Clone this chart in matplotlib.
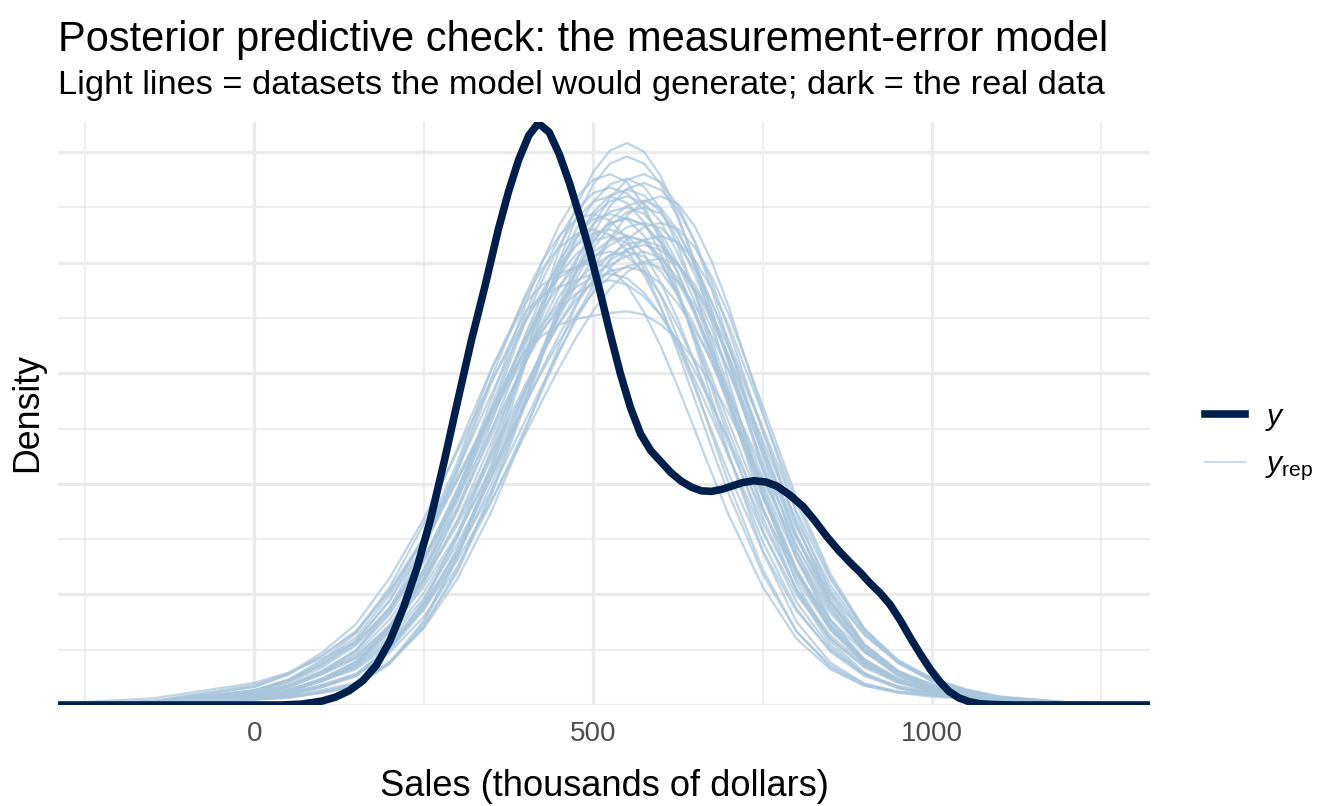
import numpy as np
import matplotlib.pyplot as plt
from matplotlib.lines import Line2D

plt.rcParams['font.family'] = ['Liberation Sans', 'DejaVu Sans']
plt.rcParams['mathtext.fontset'] = 'custom'
plt.rcParams['mathtext.rm'] = 'Liberation Sans'
plt.rcParams['mathtext.it'] = 'Liberation Sans:italic'

y_sales = [-290, 40, 70, 100, 120, 140, 160, 180, 200, 220, 240, 260, 280, 300, 320, 340,
           360, 375, 390, 405, 419, 435, 450, 465, 480, 495, 510, 525, 540, 555, 570, 585,
           600, 615, 630, 645, 660, 675, 690, 705, 720, 737, 755, 771, 790, 810, 828, 845,
           862, 879, 894, 909, 924, 938, 953, 968, 983, 998, 1012, 1025, 1040, 1055, 1070,
           1090, 1120, 1322]
y_dens = [0, 0, 0.004, 0.018, 0.036, 0.065, 0.110, 0.180, 0.290, 0.440, 0.620, 0.840, 1.100,
          1.375, 1.645, 1.890, 2.150, 2.320, 2.465, 2.575, 2.630, 2.590, 2.490, 2.360, 2.210,
          2.050, 1.870, 1.680, 1.500, 1.345, 1.225, 1.150, 1.100, 1.050, 1.012, 0.985, 0.968,
          0.966, 0.975, 0.990, 1.005, 1.014, 1.008, 0.990, 0.950, 0.897, 0.830, 0.761, 0.700,
          0.645, 0.600, 0.550, 0.505, 0.455, 0.385, 0.305, 0.230, 0.160, 0.105, 0.062, 0.032,
          0.015, 0.006, 0.002, 0, 0]

# replicated datasets (a sample of the yrep draws), density x 1e-3 on a common grid
rep_sales = [-300, -150, 0, 50, 100, 150, 200, 250, 300, 350, 400, 425, 450, 475, 500, 525,
             550, 575, 600, 625, 650, 675, 700, 750, 800, 850, 900, 950, 1000, 1050, 1100,
             1200, 1350]
yrep_dens = [
    [.001, .006, .041, .066, .117, .197, .332, .548, .838, 1.188, 1.555, 1.729, 1.885, 2.017, 2.116, 2.178, 2.200, 2.171, 2.088, 1.954, 1.782, 1.582, 1.368, .946, .590, .340, .187, .105, .066, .041, .024, .009, 0],
    [.001, .004, .036, .059, .110, .184, .343, .589, .925, 1.325, 1.737, 1.921, 2.079, 2.199, 2.275, 2.300, 2.270, 2.183, 2.042, 1.863, 1.654, 1.431, 1.205, .791, .467, .258, .140, .081, .055, .040, .020, .008, 0],
    [.002, .012, .054, .087, .145, .221, .361, .561, .817, 1.115, 1.432, 1.586, 1.728, 1.852, 1.957, 2.035, 2.083, 2.100, 2.073, 1.993, 1.865, 1.701, 1.510, 1.100, .722, .436, .247, .139, .081, .048, .024, .009, 0],
    [0, .003, .030, .046, .082, .133, .262, .471, .774, 1.159, 1.587, 1.797, 1.987, 2.152, 2.275, 2.354, 2.380, 2.344, 2.240, 2.075, 1.864, 1.626, 1.373, .895, .516, .272, .139, .078, .052, .035, .020, .007, 0],
    [0, .002, .024, .033, .056, .086, .193, .381, .681, 1.092, 1.580, 1.826, 2.057, 2.256, 2.410, 2.507, 2.540, 2.502, 2.390, 2.215, 1.989, 1.735, 1.466, .955, .551, .289, .147, .076, .048, .030, .016, .005, 0],
    [.003, .014, .065, .110, .188, .293, .476, .720, 1.017, 1.341, 1.650, 1.786, 1.896, 1.980, 2.032, 2.050, 2.027, 1.960, 1.853, 1.712, 1.548, 1.367, 1.181, .824, .525, .315, .184, .110, .070, .044, .026, .009, 0],
    [.001, .004, .034, .052, .091, .141, .260, .447, .709, 1.044, 1.423, 1.612, 1.792, 1.954, 2.091, 2.193, 2.257, 2.280, 2.246, 2.145, 1.988, 1.785, 1.557, 1.078, .661, .368, .193, .103, .062, .039, .022, .008, 0],
    [.003, .017, .082, .136, .225, .335, .521, .759, 1.035, 1.330, 1.605, 1.720, 1.817, 1.890, 1.934, 1.950, 1.929, 1.864, 1.763, 1.628, 1.472, 1.301, 1.123, .784, .499, .301, .176, .106, .068, .044, .025, .009, 0],
    [.002, .013, .065, .115, .203, .325, .535, .819, 1.161, 1.520, 1.843, 1.972, 2.068, 2.129, 2.150, 2.126, 2.055, 1.944, 1.795, 1.623, 1.434, 1.238, 1.047, .699, .426, .247, .140, .086, .059, .039, .023, .008, 0],
    [.002, .008, .042, .066, .109, .161, .273, .436, .657, .925, 1.226, 1.378, 1.525, 1.662, 1.782, 1.883, 1.957, 2.004, 2.020, 1.990, 1.901, 1.761, 1.582, 1.166, .760, .448, .242, .131, .075, .044, .024, .008, 0],
    [0, .003, .030, .046, .081, .130, .256, .461, .757, 1.135, 1.554, 1.759, 1.946, 2.106, 2.227, 2.304, 2.330, 2.304, 2.227, 2.106, 1.946, 1.759, 1.554, 1.135, .757, .471, .276, .155, .091, .051, .030, .010, 0],
    [.001, .006, .041, .066, .112, .171, .297, .483, .730, 1.032, 1.360, 1.523, 1.674, 1.812, 1.924, 2.009, 2.061, 2.080, 2.057, 1.988, 1.880, 1.737, 1.570, 1.198, .836, .542, .330, .196, .116, .065, .035, .012, 0],
    [0, .002, .026, .037, .061, .094, .192, .358, .614, .965, 1.382, 1.601, 1.812, 2.004, 2.170, 2.294, 2.374, 2.400, 2.364, 2.258, 2.093, 1.879, 1.639, 1.135, .696, .387, .202, .107, .064, .040, .022, .008, 0],
    [.002, .012, .060, .100, .170, .270, .430, .660, .980, 1.330, 1.600, 1.670, 1.720, 1.745, 1.760, 1.772, 1.780, 1.765, 1.720, 1.650, 1.560, 1.450, 1.320, 1.020, .720, .460, .270, .150, .085, .050, .030, .010, 0],
    [.002, .011, .054, .090, .156, .245, .412, .648, .947, 1.294, 1.647, 1.811, 1.960, 2.081, 2.174, 2.230, 2.250, 2.221, 2.135, 1.998, 1.823, 1.618, 1.400, .968, .603, .348, .191, .107, .067, .042, .024, .008, 0],
    [.001, .004, .036, .058, .107, .178, .331, .568, .892, 1.279, 1.676, 1.854, 2.007, 2.122, 2.196, 2.220, 2.196, 2.122, 2.007, 1.854, 1.676, 1.481, 1.279, .892, .568, .341, .198, .117, .073, .046, .026, .009, 0],
    [.002, .008, .044, .068, .113, .169, .286, .458, .689, .971, 1.287, 1.446, 1.601, 1.745, 1.870, 1.976, 2.054, 2.103, 2.120, 2.092, 2.012, 1.883, 1.717, 1.319, .912, .578, .338, .191, .107, .060, .031, .010, 0],
    [.003, .015, .067, .110, .183, .277, .443, .666, .939, 1.244, 1.548, 1.687, 1.808, 1.911, 1.986, 2.034, 2.050, 2.027, 1.960, 1.853, 1.712, 1.548, 1.367, .998, .666, .416, .246, .145, .088, .053, .029, .010, 0],
    [0, .002, .026, .037, .060, .092, .189, .352, .604, .949, 1.359, 1.574, 1.782, 1.971, 2.133, 2.256, 2.334, 2.360, 2.329, 2.240, 2.096, 1.912, 1.697, 1.237, .812, .489, .275, .153, .087, .050, .027, .009, 0],
    [.003, .016, .082, .141, .238, .366, .576, .842, 1.150, 1.464, 1.742, 1.850, 1.932, 1.982, 2.000, 1.974, 1.898, 1.776, 1.620, 1.438, 1.244, 1.048, .860, .536, .300, .162, .088, .058, .045, .033, .020, .007, 0],
    [0, .002, .024, .033, .055, .084, .188, .372, .665, 1.066, 1.543, 1.783, 2.009, 2.202, 2.354, 2.448, 2.480, 2.448, 2.354, 2.202, 2.009, 1.783, 1.543, 1.066, .665, .382, .208, .114, .070, .043, .024, .008, 0],
    [.006, .030, .100, .146, .211, .282, .436, .659, .971, 1.323, 1.666, 1.817, 1.944, 2.039, 2.099, 2.120, 2.088, 1.995, 1.849, 1.660, 1.448, 1.223, 1.003, .615, .333, .171, .088, .055, .038, .028, .018, .006, 0],
    [.001, .005, .042, .068, .116, .179, .312, .506, .765, 1.081, 1.426, 1.596, 1.755, 1.899, 2.017, 2.106, 2.160, 2.180, 2.156, 2.084, 1.971, 1.820, 1.646, 1.256, .876, .568, .345, .204, .120, .067, .035, .012, 0],
    [.004, .018, .091, .144, .222, .330, .513, .747, 1.020, 1.309, 1.580, 1.693, 1.789, 1.860, 1.905, 1.920, 1.901, 1.847, 1.761, 1.645, 1.509, 1.357, 1.198, .879, .597, .386, .239, .149, .095, .057, .032, .010, 0],
    [0, .003, .037, .061, .114, .192, .358, .614, .965, 1.382, 1.812, 2.004, 2.170, 2.294, 2.374, 2.400, 2.364, 2.258, 2.093, 1.879, 1.639, 1.385, 1.135, .696, .377, .192, .097, .059, .045, .030, .018, .006, 0],
    [.001, .006, .052, .086, .148, .231, .388, .611, .893, 1.219, 1.552, 1.707, 1.847, 1.961, 2.048, 2.101, 2.120, 2.097, 2.027, 1.916, 1.770, 1.601, 1.414, 1.032, .689, .430, .253, .149, .090, .053, .029, .010, 0],
    [.002, .009, .052, .084, .139, .210, .344, .534, .778, 1.062, 1.364, 1.510, 1.646, 1.764, 1.864, 1.938, 1.984, 2.000, 1.978, 1.912, 1.808, 1.670, 1.510, 1.152, .804, .522, .318, .190, .113, .064, .034, .012, 0],
    [.001, .006, .044, .078, .144, .244, .440, .722, 1.081, 1.481, 1.854, 2.007, 2.122, 2.196, 2.220, 2.191, 2.107, 1.971, 1.798, 1.596, 1.381, 1.163, .955, .595, .333, .179, .095, .061, .047, .034, .021, .007, 0],
    [0, .004, .029, .042, .068, .101, .196, .347, .573, .876, 1.242, 1.435, 1.626, 1.808, 1.971, 2.109, 2.213, 2.277, 2.300, 2.266, 2.164, 2.006, 1.801, 1.327, .865, .509, .273, .145, .081, .046, .025, .008, 0],
    [.001, .005, .042, .068, .121, .196, .347, .573, .876, 1.242, 1.626, 1.808, 1.971, 2.109, 2.213, 2.277, 2.300, 2.270, 2.183, 2.042, 1.863, 1.654, 1.431, .989, .616, .355, .195, .108, .067, .042, .024, .008, 0],
    [.002, .010, .067, .115, .196, .307, .499, .755, 1.066, 1.406, 1.731, 1.873, 1.989, 2.077, 2.131, 2.150, 2.122, 2.040, 1.909, 1.742, 1.546, 1.337, 1.127, .740, .436, .242, .132, .077, .053, .036, .021, .007, 0],
    [.001, .004, .034, .052, .090, .140, .257, .441, .700, 1.031, 1.404, 1.591, 1.769, 1.928, 2.063, 2.165, 2.228, 2.250, 2.221, 2.135, 1.998, 1.823, 1.618, 1.179, .774, .467, .263, .147, .085, .049, .027, .009, 0],
    [.002, .010, .050, .085, .150, .250, .420, .700, 1.060, 1.460, 1.780, 1.850, 1.890, 1.920, 1.950, 1.990, 2.030, 2.050, 2.020, 1.930, 1.780, 1.590, 1.380, .960, .610, .360, .200, .110, .068, .042, .024, .008, 0],
    [.002, .010, .050, .081, .140, .216, .362, .570, .834, 1.139, 1.449, 1.594, 1.725, 1.832, 1.913, 1.962, 1.980, 1.960, 1.905, 1.816, 1.697, 1.556, 1.400, 1.069, .754, .503, .319, .198, .122, .072, .039, .013, 0],
    [0, .004, .036, .060, .111, .187, .349, .599, .941, 1.348, 1.767, 1.954, 2.115, 2.237, 2.314, 2.340, 2.314, 2.237, 2.115, 1.954, 1.767, 1.561, 1.348, .941, .599, .359, .207, .121, .075, .046, .026, .009, 0],
    [.001, .006, .035, .053, .088, .132, .238, .399, .628, .918, 1.254, 1.426, 1.596, 1.755, 1.899, 2.017, 2.106, 2.160, 2.180, 2.152, 2.069, 1.936, 1.766, 1.356, .937, .594, .347, .196, .109, .061, .031, .010, 0],
    [.002, .012, .062, .105, .180, .290, .470, .760, 1.100, 1.520, 1.820, 1.900, 1.950, 1.980, 2.020, 2.080, 2.120, 2.100, 2.000, 1.850, 1.660, 1.450, 1.240, .850, .520, .300, .170, .100, .065, .042, .024, .008, 0],
    [0, .004, .030, .048, .085, .135, .250, .430, .680, 1.000, 1.380, 1.580, 1.780, 1.960, 2.100, 2.180, 2.200, 2.170, 2.090, 1.990, 1.880, 1.760, 1.620, 1.250, .820, .470, .250, .135, .078, .046, .026, .009, 0],
]

x_major = [0, 500, 1000]
x_minor = [-250, 250, 750, 1250]
y_major = [0, 0.5, 1.0, 1.5, 2.0, 2.5]
y_minor = [0.25, 0.75, 1.25, 1.75, 2.25]

dark = '#011f4b'
light = '#a8c5dc'

W, H = 1344, 806
fig = plt.figure(figsize=(W / 192, H / 192), dpi=192)
ax = fig.add_axes([58 / W, 1 - 705 / H, (1150 - 58) / W, (705 - 121.5) / H])

for dens in yrep_dens:
    ax.plot(rep_sales, dens, color=light, alpha=0.72, lw=0.85)
ax.plot(y_sales, y_dens, color=dark, lw=2.85, solid_joinstyle='round')

ax.set_xlim(-290, 1322)
ax.set_ylim(0, 2.638)
ax.set_xticks(x_major)
ax.set_xticks(x_minor, minor=True)
ax.set_yticks(y_major)
ax.set_yticks(y_minor, minor=True)
ax.grid(which='major', color='#ebebeb', lw=1.2)
ax.grid(which='minor', color='#ebebeb', lw=0.6)
ax.set_axisbelow(True)
ax.tick_params(which='both', length=0)
ax.tick_params(axis='x', labelsize=10.4, labelcolor='#4d4d4d', pad=6)
ax.tick_params(axis='y', labelleft=False)
for s in ax.spines.values():
    s.set_visible(False)

fig.text(58 / W, 1 - 51 / H, 'Posterior predictive check: the measurement-error model',
         fontsize=15.6, va='baseline')
fig.text(58 / W, 1 - 94 / H, 'Light lines = datasets the model would generate; dark = the real data',
         fontsize=12.9, va='baseline')
fig.text(604 / W, 1 - 796 / H, 'Sales (thousands of dollars)', fontsize=13.6,
         ha='center', va='baseline')
fig.text(28 / W, 1 - 413 / H, 'Density', fontsize=13.4, rotation=90, ha='center', va='center')

handles = [Line2D([], [], color=dark, lw=2.85),
           Line2D([], [], color=light, alpha=0.6, lw=0.8)]
fig.legend(handles, [r'$y$', r'$y_{\mathrm{rep}}$'], loc='center left',
           bbox_to_anchor=(1205 / W, 1 - 443 / H), frameon=False, fontsize=11.3,
           handlelength=1.33, handletextpad=0.67, labelspacing=0.6,
           borderpad=0, borderaxespad=0)

fig.savefig('out.png', dpi=192)
